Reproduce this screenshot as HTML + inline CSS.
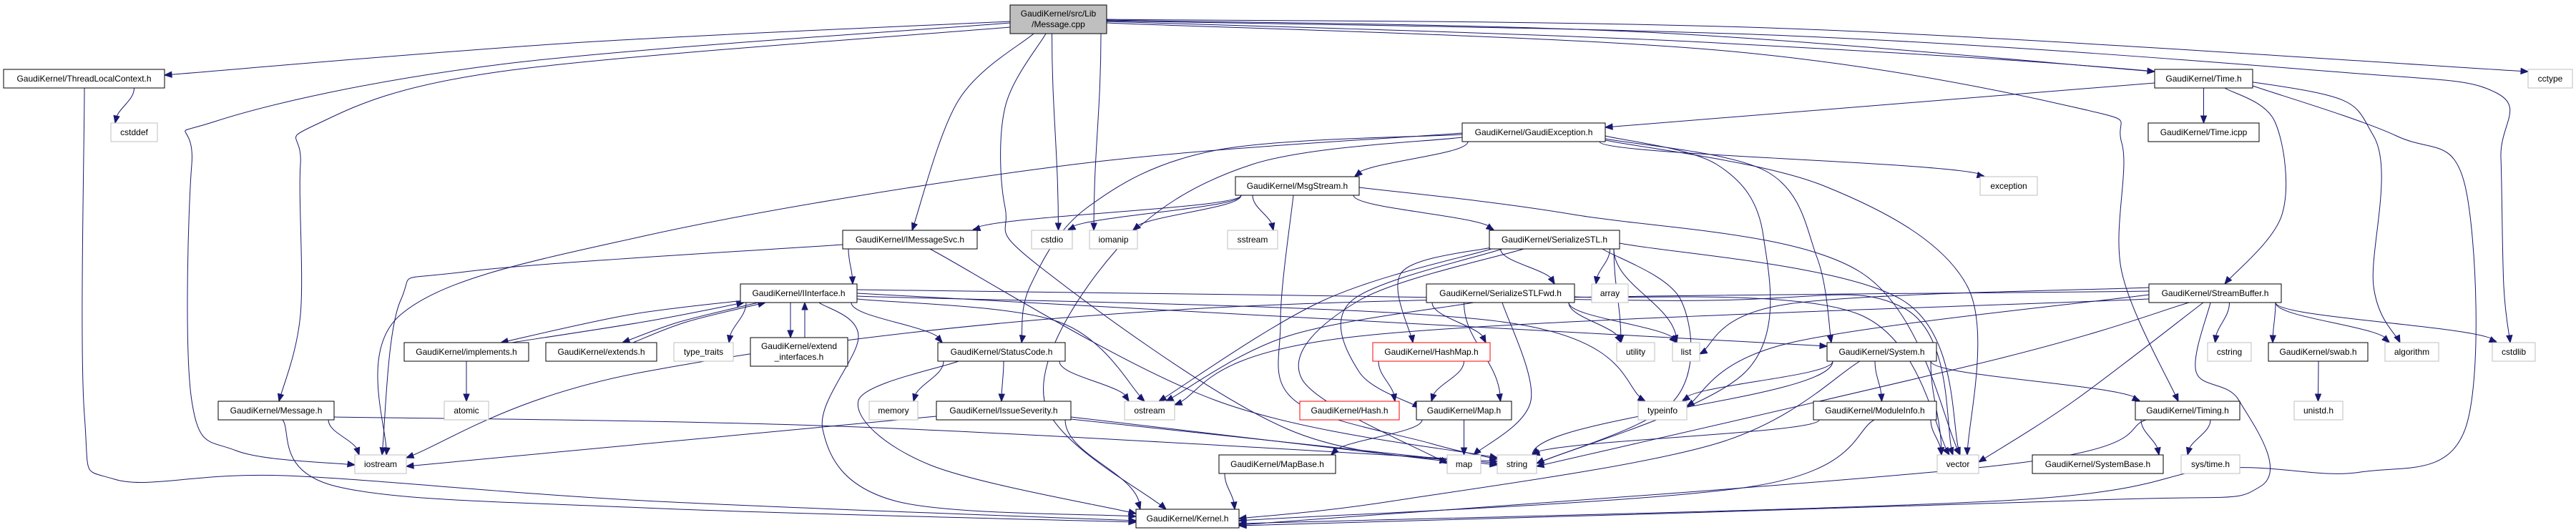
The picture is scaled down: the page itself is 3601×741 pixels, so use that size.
<!DOCTYPE html>
<html><head><meta charset="utf-8">
<style>
html,body{margin:0;padding:0;background:#fff;}
svg{display:block;}
text{font-family:"Liberation Sans",sans-serif;font-size:12px;fill:#000;}
</style></head>
<body>
<svg id="g" width="3601" height="741" viewBox="0 0 3601 741" xmlns="http://www.w3.org/2000/svg">
<g id="edges" fill="none" stroke="#191970" stroke-width="1"></g>
<g id="heads" fill="#191970" stroke="#191970"></g>
<g id="nodes">
<rect x="1412" y="7" width="135" height="40" fill="#bfbfbf" stroke="#000"/><text x="1479.5" y="23" text-anchor="middle">GaudiKernel/src/Lib</text><text x="1479.5" y="38" text-anchor="middle">/Message.cpp</text>
<rect x="1049" y="472" width="136" height="40" fill="#fff" stroke="#000"/><text x="1117" y="488" text-anchor="middle">GaudiKernel/extend</text><text x="1117" y="503" text-anchor="middle">_interfaces.h</text>
</g>
</svg>
<script>
var N={
tlc:[5,97,230,123,"GaudiKernel/ThreadLocalContext.h","b"],
cstddef:[155,172,220,198,"cstddef","g"],
time:[3012,97,3149,123,"GaudiKernel/Time.h","b"],
cctype:[3534,97,3596,123,"cctype","g"],
gexc:[2044,172,2244,198,"GaudiKernel/GaudiException.h","b"],
ticpp:[3003,172,3158,198,"GaudiKernel/Time.icpp","b"],
msgs:[1727,247,1900,273,"GaudiKernel/MsgStream.h","b"],
exception:[2768,247,2848,273,"exception","g"],
imsg:[1178,322,1366,348,"GaudiKernel/IMessageSvc.h","b"],
cstdio:[1442,322,1499,348,"cstdio","g"],
iomanip:[1523,322,1590,348,"iomanip","g"],
sstream:[1716,322,1786,348,"sstream","g"],
sstl:[2082,322,2264,348,"GaudiKernel/SerializeSTL.h","b"],
iint:[1035,397,1198,423,"GaudiKernel/IInterface.h","b"],
sfwd:[1994,397,2201,423,"GaudiKernel/SerializeSTLFwd.h","b"],
array:[2225,397,2276,423,"array","g"],
sbuf:[3004,397,3189,423,"GaudiKernel/StreamBuffer.h","b"],
impl:[565,479,739,505,"GaudiKernel/implements.h","b"],
ext:[763,479,918,505,"GaudiKernel/extends.h","b"],
tt:[942,479,1025,505,"type_traits","g"],
sc:[1311,479,1489,505,"GaudiKernel/StatusCode.h","b"],
hmap:[1919,479,2083,505,"GaudiKernel/HashMap.h","r"],
utility:[2260,479,2313,505,"utility","g"],
list:[2338,479,2376,505,"list","g"],
sys:[2554,479,2707,505,"GaudiKernel/System.h","b"],
cstring:[3086,479,3147,505,"cstring","g"],
swab:[3171,479,3310,505,"GaudiKernel/swab.h","b"],
algo:[3334,479,3409,505,"algorithm","g"],
cstdlib:[3484,479,3544,505,"cstdlib","g"],
msgh:[305,561,467,587,"GaudiKernel/Message.h","b"],
atomic:[621,561,683,587,"atomic","g"],
memory:[1215,561,1283,587,"memory","g"],
isev:[1309,561,1497,587,"GaudiKernel/IssueSeverity.h","b"],
ostream:[1572,561,1642,587,"ostream","g"],
hash:[1817,561,1956,587,"GaudiKernel/Hash.h","r"],
maph:[1980,561,2113,587,"GaudiKernel/Map.h","b"],
typeinfo:[2290,561,2358,587,"typeinfo","g"],
modinfo:[2535,561,2707,587,"GaudiKernel/ModuleInfo.h","b"],
timing:[2985,561,3131,587,"GaudiKernel/Timing.h","b"],
unistd:[3207,561,3275,587,"unistd.h","g"],
iostream:[496,636,568,662,"iostream","g"],
mapbase:[1704,636,1867,662,"GaudiKernel/MapBase.h","b"],
map:[2023,636,2070,662,"map","g"],
string:[2093,636,2148,662,"string","g"],
vector:[2708,636,2766,662,"vector","g"],
sysbase:[2841,636,3024,662,"GaudiKernel/SystemBase.h","b"],
systime:[3049,636,3131,662,"sys/time.h","g"],
kernel:[1588,712,1732,738,"GaudiKernel/Kernel.h","b"]
};
N.cpp=[1412,7,1547,47,"","x"];N.exti=[1049,472,1185,512,"","x"];
var E=[
["cpp","tlc",[[1412,30],[800,60],[230,105]]],
["cpp","iostream",[[1412,32],[700,90],[300,170],[268,230],[268,560],[330,630],[496,650]]],
["cpp","msgh",[[1412,38],[700,100],[440,175],[420,230],[420,440],[390,561]]],
["cpp","imsg",[[1445,47],[1340,140],[1275,322]]],
["cpp","cstdio"],["cpp","iomanip"],
["cpp","string",[[1462,47],[1405,150],[1405,290],[1450,370],[1800,600],[2093,648]]],
["cpp","time",[[1547,28],[2300,45],[3012,100]]],
["cpp","cctype",[[1547,27],[2500,40],[3534,100]]],
["cpp","algo",[[1547,30],[2400,60],[3150,115],[3318,190],[3318,400],[3355,479]]],
["cpp","cstdlib",[[1547,29],[2500,50],[3260,100],[3490,130],[3496,220],[3500,400],[3509,479]]],
["cpp","timing",[[1547,32],[2400,70],[2900,150],[2966,200],[2966,380],[3045,561]]],
["tlc","cstddef"],
["tlc","kernel",[[118,123],[118,580],[160,670],[400,665],[900,700],[1588,728]]],
["msgh","iostream"],["msgh","kernel",[[395,587],[470,680],[900,710],[1588,730]]],
["msgh","string",[[467,583],[1200,597],[2093,645]]],
["imsg","iint"],["imsg","iostream",[[1178,342],[650,380],[560,420],[534,636]]],["imsg","string",[[1300,348],[1700,560],[2093,640]]],
["impl","iint",[[715,479],[900,450],[1040,423]]],["ext","iint",[[885,479],[960,450],[1070,423]]],
["iint","impl",[[1040,420],[880,440],[700,479]]],["iint","ext",[[1060,423],[950,450],[870,479]]],
["iint","tt"],["iint","exti",[[1105,423],[1105,472]]],["exti","iint",[[1125,472],[1125,423]]],
["iint","sc"],["iint","ostream",[[1198,418],[1480,450],[1600,561]]],
["iint","kernel",[[1145,423],[1200,470],[1150,600],[1250,700],[1588,722]]],
["iint","typeinfo",[[1198,414],[2100,450],[2300,561]]],
["iint","sys",[[1198,410],[2554,484]]],["iint","vector",[[1198,405],[2300,420],[2660,430],[2730,636]]],
["impl","atomic"],
["sc","kernel",[[1340,505],[1200,560],[1300,650],[1588,718]]],["sc","memory"],["sc","isev"],["sc","ostream"],
["isev","iostream",[[1309,582],[568,652]]],["isev","kernel"],["isev","map",[[1497,583],[2023,645]]],["isev","string",[[1497,586],[2093,650]]],
["msgs","imsg"],["msgs","cstdio"],["msgs","iomanip"],["msgs","sstream"],["msgs","sstl"],
["msgs","string",[[1808,273],[1790,450],[1810,560],[2000,620],[2093,642]]],
["msgs","vector",[[1900,262],[2200,300],2600,[2600,380],[2740,636]]],
["gexc","msgs"],["gexc","sc",[[2044,188],[1700,210],[1520,290],[1440,400],[1428,479]]],
["gexc","kernel",[[2044,192],[1750,230],[1560,350],[1460,560],[1630,712]]],
["gexc","iostream",[[2044,186],[1500,230],[900,330],[560,440],[540,636]]],
["gexc","exception"],["gexc","sys",[[2244,194],[2470,240],[2540,360],[2560,479]]],
["gexc","string",[[2244,190],[2400,230],[2465,330],[2440,520],[2148,648]]],
["gexc","vector",[[2244,196],[2550,260],[2750,400],[2750,636]]],
["sstl","sfwd"],["sstl","array"],["sstl","utility"],["sstl","list"],
["sstl","hmap",[[2090,345],[1960,380],[1975,479]]],["sstl","maph",[[2100,348],[1890,420],[1900,520],[1985,570]]],
["sstl","map",[[2130,348],[1900,420],[1820,530],[2023,648]]],["sstl","string",[[2240,348],[2350,420],[2340,560],[2148,648]]],
["sstl","vector",[[2264,340],[2660,420],[2740,636]]],["sstl","ostream",[[2085,348],[1850,420],[1620,561]]],
["sfwd","hmap"],["sfwd","maph"],["sfwd","map",[[2100,423],[2140,560],[2060,636]]],["sfwd","utility"],["sfwd","list"],
["sfwd","ostream",[[2060,423],[1800,470],[1630,561]]],["sfwd","vector",[[2201,415],[2600,440],[2725,636]]],
["hmap","hash"],["hmap","maph"],["maph","map"],["maph","mapbase"],["mapbase","kernel"],
["sys","typeinfo"],["sys","string"],["sys","modinfo"],["sys","vector"],["sys","kernel",[[2600,505],[2400,620],[1950,700],[1732,725]]],["sys","timing"],
["modinfo","string"],["modinfo","vector"],["modinfo","kernel",[[2620,587],[2450,680],[1732,728]]],
["time","gexc",[[3012,116],[2244,178]]],["time","ticpp"],
["time","sbuf",[[3110,123],[3180,170],[3190,300],[3110,397]]],
["time","kernel",[[3149,120],[3350,190],[3446,260],[3446,600],[3300,660],[3100,655],[2800,700],[1732,732]]],
["sbuf","list",[[3004,402],[2500,425],[2376,495]]],["sbuf","iostream",[[3004,407],[1700,430],[900,520],[568,640]]],
["sbuf","typeinfo",[[3004,412],[2500,480],[2358,568]]],["sbuf","string",[[3060,423],[2800,500],[2148,652]]],
["sbuf","vector",[[3080,423],[2900,560],[2766,646]]],["sbuf","cstring"],["sbuf","swab"],["sbuf","algo"],["sbuf","cstdlib"],
["sbuf","kernel",[[3090,423],[3070,520],[3130,560],[3160,680],[2900,700],[1732,735]]],
["sbuf","ostream",[[3004,418],[1900,470],[1642,566]]],
["swab","unistd"],["timing","sysbase"],["timing","systime"],["timing","kernel",[[3000,587],[2800,650],[1732,734]]]
];
var NS="http://www.w3.org/2000/svg",eg=document.getElementById("edges"),hg=document.getElementById("heads"),ng=document.getElementById("nodes");
function el(t,a,p){var e=document.createElementNS(NS,t);for(var k in a)e.setAttribute(k,a[k]);p.appendChild(e);return e;}
function cl(v,a,b){return Math.max(a,Math.min(b,v));}
function spline(P){var d="M"+P[0][0]+","+P[0][1];for(var i=0;i<P.length-1;i++){var p0=P[i-1]||P[i],p1=P[i],p2=P[i+1],p3=P[i+2]||p2;
var c1=[p1[0]+(p2[0]-p0[0])/6,p1[1]+(p2[1]-p0[1])/6],c2=[p2[0]-(p3[0]-p1[0])/6,p2[1]-(p3[1]-p1[1])/6];
d+=" C"+c1[0].toFixed(1)+","+c1[1].toFixed(1)+" "+c2[0].toFixed(1)+","+c2[1].toFixed(1)+" "+p2[0]+","+p2[1];}return d;}
E.forEach(function(e){var s=N[e[0]],t=N[e[1]],P,d;
if(e[2]){P=e[2].filter(function(p){return Array.isArray(p);});d=spline(P);var a=P[P.length-2],b=P[P.length-1];arrow(a,b);}
else{var sx=(s[0]+s[2])/2,tx=(t[0]+t[2])/2,st,en;
if(t[1]>s[3]){st=[cl(tx,s[0]+8,s[2]-8),s[3]];en=[cl(sx,t[0]+6,t[2]-6),t[1]];}
else if(t[3]<s[1]){st=[cl(tx,s[0]+8,s[2]-8),s[1]];en=[cl(sx,t[0]+6,t[2]-6),t[3]];}
else{if(tx>sx){st=[s[2],(s[1]+s[3])/2];en=[t[0],(t[1]+t[3])/2];}else{st=[s[0],(s[1]+s[3])/2];en=[t[2],(t[1]+t[3])/2];}}
var dy=(en[1]-st[1])*0.4;d="M"+st+" C"+st[0]+","+(st[1]+dy)+" "+en[0]+","+(en[1]-dy)+" "+en[0]+","+en[1];
arrow([en[0]+(st[0]-en[0])*0.15,en[1]-dy],en);}
el("path",{d:d},eg);});
function arrow(a,b){var dx=b[0]-a[0],dy=b[1]-a[1],L=Math.hypot(dx,dy)||1;dx/=L;dy/=L;var l=10,w=4;
var bx=b[0]-dx*l,by=b[1]-dy*l;el("polygon",{points:b[0]+","+b[1]+" "+(bx-dy*w)+","+(by+dx*w)+" "+(bx+dy*w)+","+(by-dx*w)},hg);}
for(var k in N){var n=N[k];if(n[5]=="x")continue;var col=n[5]=="g"?"#bfbfbf":(n[5]=="r"?"#ff0000":"#000");
el("rect",{x:n[0],y:n[1],width:n[2]-n[0],height:n[3]-n[1],fill:"#fff",stroke:col},ng);}
</script>
<svg width="0" height="0" style="position:absolute"></svg>
<div style="position:absolute;left:0;top:0;width:3601px;height:741px;pointer-events:none">
<svg width="3601" height="741" style="position:absolute;left:0;top:0">
<g text-anchor="middle" font-family="Liberation Sans, sans-serif" font-size="12">
<text x="117.5" y="114">GaudiKernel/ThreadLocalContext.h</text>
<text x="187.5" y="189">cstddef</text>
<text x="3080.5" y="114">GaudiKernel/Time.h</text>
<text x="3565" y="114">cctype</text>
<text x="2144" y="189">GaudiKernel/GaudiException.h</text>
<text x="3080.5" y="189">GaudiKernel/Time.icpp</text>
<text x="1813.5" y="264">GaudiKernel/MsgStream.h</text>
<text x="2808" y="264">exception</text>
<text x="1272" y="339">GaudiKernel/IMessageSvc.h</text>
<text x="1470.5" y="339">cstdio</text>
<text x="1556.5" y="339">iomanip</text>
<text x="1751" y="339">sstream</text>
<text x="2173" y="339">GaudiKernel/SerializeSTL.h</text>
<text x="1116.5" y="414">GaudiKernel/IInterface.h</text>
<text x="2097.5" y="414">GaudiKernel/SerializeSTLFwd.h</text>
<text x="2250.5" y="414">array</text>
<text x="3096.5" y="414">GaudiKernel/StreamBuffer.h</text>
<text x="652" y="496">GaudiKernel/implements.h</text>
<text x="840.5" y="496">GaudiKernel/extends.h</text>
<text x="983.5" y="496">type_traits</text>
<text x="1400" y="496">GaudiKernel/StatusCode.h</text>
<text x="2001" y="496">GaudiKernel/HashMap.h</text>
<text x="2286.5" y="496">utility</text>
<text x="2357" y="496">list</text>
<text x="2630.5" y="496">GaudiKernel/System.h</text>
<text x="3116.5" y="496">cstring</text>
<text x="3240.5" y="496">GaudiKernel/swab.h</text>
<text x="3371.5" y="496">algorithm</text>
<text x="3514" y="496">cstdlib</text>
<text x="386" y="578">GaudiKernel/Message.h</text>
<text x="652" y="578">atomic</text>
<text x="1249" y="578">memory</text>
<text x="1403" y="578">GaudiKernel/IssueSeverity.h</text>
<text x="1607" y="578">ostream</text>
<text x="1886.5" y="578">GaudiKernel/Hash.h</text>
<text x="2046.5" y="578">GaudiKernel/Map.h</text>
<text x="2324" y="578">typeinfo</text>
<text x="2621" y="578">GaudiKernel/ModuleInfo.h</text>
<text x="3058" y="578">GaudiKernel/Timing.h</text>
<text x="3241" y="578">unistd.h</text>
<text x="532" y="653">iostream</text>
<text x="1785.5" y="653">GaudiKernel/MapBase.h</text>
<text x="2046.5" y="653">map</text>
<text x="2120.5" y="653">string</text>
<text x="2737" y="653">vector</text>
<text x="2932.5" y="653">GaudiKernel/SystemBase.h</text>
<text x="3090" y="653">sys/time.h</text>
<text x="1660" y="729">GaudiKernel/Kernel.h</text>
</g></svg></div>
</body></html>
